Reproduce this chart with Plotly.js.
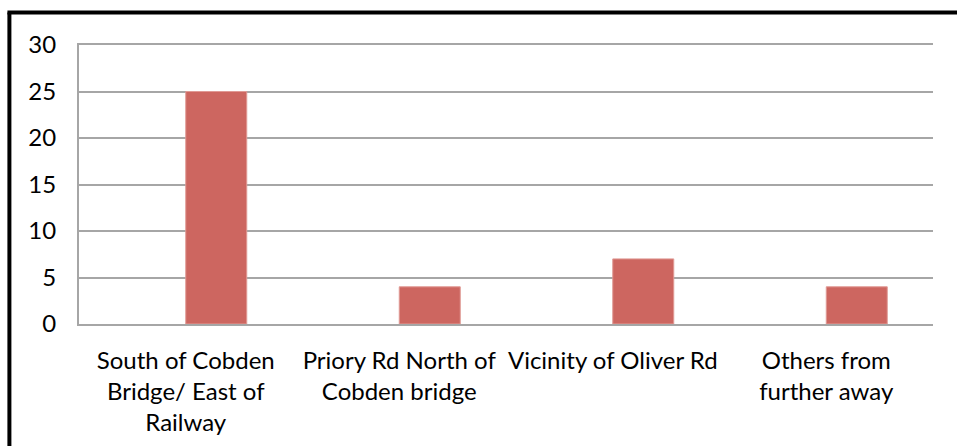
<!DOCTYPE html>
<html>
<head>
<meta charset="utf-8">
<script src="https://cdn.plot.ly/plotly-3.0.1.min.js"></script>
<style>html,body{margin:0;padding:0;background:#fff;}</style>
</head>
<body>
<div id="chart" style="width:957px;height:446px;"></div>
<script>
const categories = [
  "South of Cobden<br>Bridge/ East of<br>Railway",
  "Priory Rd North of<br>Cobden bridge",
  "Vicinity of Oliver Rd",
  "Others from<br>further away"
];
const seriesBlank = [null, null, null, null];
const seriesCount = [25, 4, 7, 4];
const yTicks = [0, 5, 10, 15, 20, 25, 30];

const font = {family: "Lato, 'Open Sans', sans-serif", size: 24, color: "#000"};

const traces = [
  {type: "bar", x: categories, y: seriesBlank, showlegend: false, marker: {color: "#4F81BD"}, hoverinfo: "skip"},
  {type: "bar", x: categories, y: seriesCount, showlegend: false,
   marker: {color: "#CD6660", line: {color: "#E09A95", width: 1}}}
];

const layout = {
  width: 957, height: 446,
  margin: {l: 79, r: 24, t: 45, b: 122},
  paper_bgcolor: "#fff", plot_bgcolor: "#fff",
  barmode: "group", bargap: 1.5/3.5, bargroupgap: 0,
  font: font,
  xaxis: {
    type: "category", showgrid: false, showline: true, linecolor: "#A6A6A6", linewidth: 2,
    mirror: true,
    ticks: "", tickfont: font, ticklabelstandoff: 14, automargin: false
  },
  yaxis: {
    range: [0, 30], tickvals: yTicks, ticktext: yTicks.map(String),
    showgrid: true, gridcolor: "#A6A6A6", gridwidth: 2,
    showline: true, linecolor: "#A6A6A6", linewidth: 2, zeroline: false,
    ticks: "", tickfont: font, ticklabelstandoff: 16, automargin: false
  },
  shapes: [
    {type: "line", xref: "paper", yref: "paper", x0: -0.0815, x1: -0.0815, y0: -0.5, y1: 1.1165,
     line: {color: "#000", width: 4}},
    {type: "line", xref: "paper", yref: "paper", x0: -0.0838, x1: 1.1, y0: 1.1165, y1: 1.1165,
     line: {color: "#000", width: 4}}
  ]
};

Plotly.newPlot("chart", traces, layout, {displayModeBar: false, staticPlot: true});
</script>
</body>
</html>
